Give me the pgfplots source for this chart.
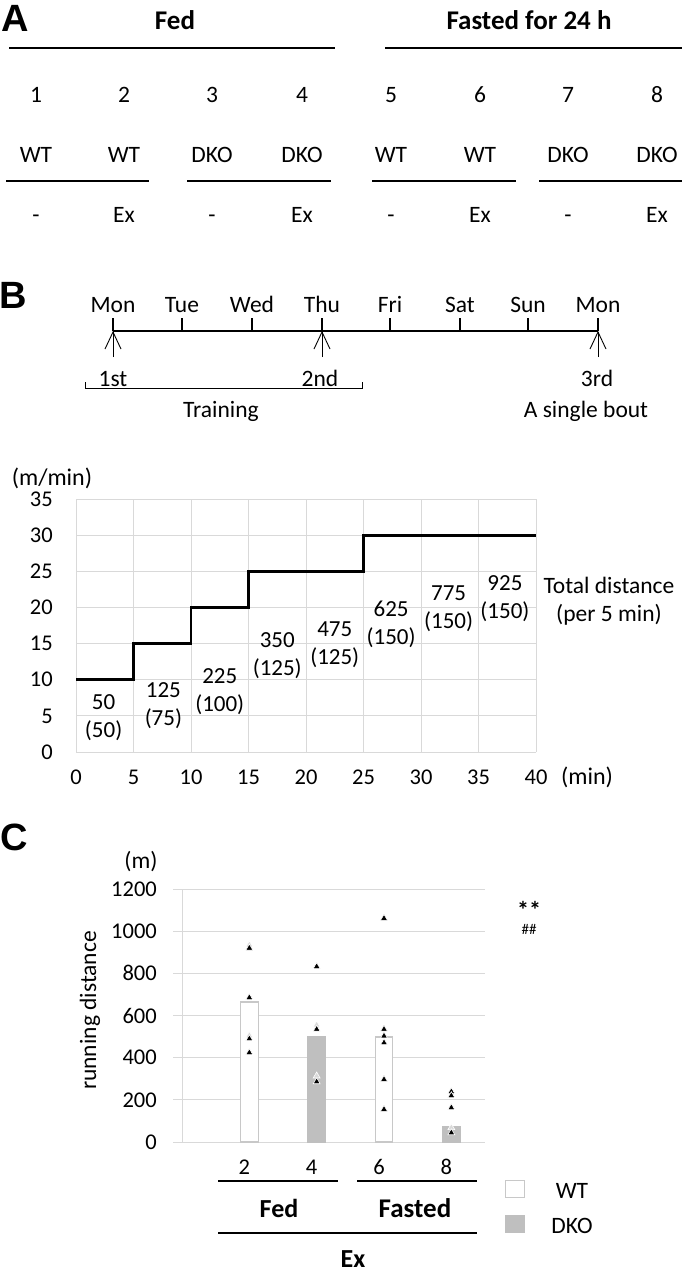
\documentclass[border=0pt]{standalone}
\usepackage{pgfplots}
\pgfplotsset{compat=1.18}
\usepackage{fontspec}
\setmainfont{Carlito}
\newfontfamily\arialf{Liberation Sans}
\newcommand\fs[1]{\fontsize{#1bp}{#1bp}\selectfont}
\definecolor{gridgray}{HTML}{D9D9D9}
\definecolor{barline}{HTML}{C8C8C8}
\definecolor{dkogray}{HTML}{BFBFBF}
\begin{document}
\begin{tikzpicture}[x=1bp,y=1bp,font=\fs{23.5}]
\path[use as bounding box] (0,0) rectangle (685,-1271);

% ---- panel A
\node[anchor=base,font=\arialf\bfseries\fs{38}] at (15,-31) {A};
\node[anchor=base,font=\bfseries\fs{27}] at (175,-29) {Fed};
\node[anchor=base,font=\bfseries\fs{27}] at (529,-29) {Fasted for 24 h};
\draw[line width=2bp] (9,-48) -- (335,-48);
\draw[line width=2bp] (385,-48) -- (682,-48);
\foreach \x/\n/\g/\e in {36/1/WT/-,124/2/WT/Ex,212/3/DKO/-,302/4/DKO/Ex,391/5/WT/-,480/6/WT/Ex,568/7/DKO/-,657/8/DKO/Ex}{
  \node[anchor=base] at (\x,-102) {\n};
  \node[anchor=base] at (\x,-162) {\g};
  \node[anchor=base] at (\x,-222) {\e};
}
\foreach \a/\b in {6/149,187/331,372/516,539/682}
  \draw[line width=2.2bp] (\a,-181) -- (\b,-181);

% ---- panel B, schedule
\node[anchor=base,font=\arialf\bfseries\fs{38}] at (13,-308) {B};
\draw[line width=2bp] (113,-331) -- (598,-331);
\foreach \x/\d in {113/Mon,182/Tue,252/Wed,322/Thu,390/Fri,460/Sat,528/Sun,598/Mon}{
  \draw[line width=2bp] (\x,-331) -- (\x,-318);
  \node[anchor=base] at (\x,-312) {\d};
}
\foreach \x in {113,322,598}{
  \draw[line width=0.9bp] (\x,-357) -- (\x,-332);
  \draw[line width=0.9bp] (\x-8,-349) -- (\x,-332) -- (\x+8,-349);
}
\draw[line width=0.8bp] (85,-382) -- (85,-388) -- (362,-388) -- (362,-382);
\node[anchor=base] at (113,-386) {1st};
\node[anchor=base] at (320,-386) {2nd};
\node[anchor=base] at (597,-386) {3rd};
\node[anchor=base] at (221,-417) {Training};
\node[anchor=base] at (586,-417) {A single bout};

% ---- panel B, speed protocol
\begin{axis}[
    at={(76bp,-752bp)}, anchor=south west,
    scale only axis, width=460bp, height=253bp,
    xmin=0, xmax=40, ymin=0, ymax=35,
    xtick={0,5,...,40}, ytick={0,5,...,35},
    grid=major, major grid style={gridgray, line width=0.8bp},
    axis line style={draw=none}, tick style={draw=none},
    ticklabel style={font=\fs{22.5}},
    /pgf/number format/assume math mode=true,
    yticklabel style={anchor=east, inner sep=0pt, xshift=-23bp},
    xticklabel style={anchor=center, inner sep=0pt, yshift=-25bp},
    clip=false,
]
\addplot[const plot, black, line width=2.8bp] coordinates {
    (0,10) (5,15) (10,20) (15,25) (25,30) (40,30)
};
\foreach \xx/\yy/\t/\s in {2.4/4.7/50/50, 7.6/6.4/125/75, 12.5/8.4/225/100,
    17.5/13.3/350/125, 22.5/14.9/475/125, 27.4/17.7/625/150,
    32.4/19.8/775/150, 37.3/21.2/925/150}{
  \edef\temp{\noexpand\node[align=center,font=\noexpand\fontsize{23bp}{28bp}\noexpand\selectfont]
    at (axis cs:\xx,\yy) {\t\noexpand\\(\s)};}
  \temp
}
\end{axis}
\node[anchor=base,font=\fs{24}] at (52,-485) {(m/min)};
\node[anchor=base] at (609,-593) {Total distance};
\node[anchor=base] at (609,-621) {(per 5 min)};
\node[font=\fs{24}] at (587,-777) {(min)};

% ---- panel C
\node[anchor=base,font=\arialf\bfseries\fs{38}] at (14,-850) {C};
\node[anchor=base] at (141,-868) {(m)};
\begin{axis}[
    at={(182bp,-1142bp)}, anchor=south west,
    scale only axis, width=303bp, height=253bp,
    xmin=0, xmax=4.5, ymin=0, ymax=1200,
    ytick={0,200,...,1200}, xtick={1,2,3,4}, xticklabels={2,4,6,8},
    ymajorgrids, major grid style={gridgray, line width=0.9bp},
    axis lines*=left, axis line style={gridgray, line width=0.9bp},
    xtick style={draw=none},
    ytick style={gridgray, line width=0.9bp},
    major tick length=9bp, tick align=outside,
    ticklabel style={font=\fs{22.5}},
    /pgf/number format/assume math mode=true,
    /pgf/number format/1000 sep={},
    yticklabel style={anchor=east, inner sep=0pt, xshift=-16bp},
    xticklabel style={anchor=center, inner sep=0pt, yshift=-16bp, xshift=-5bp},
    ylabel={running distance},
    ylabel style={at={(axis description cs:-0.304,0.52)}, anchor=center, font=\fs{23.5}},
    clip=false,
]
\addplot[ybar, bar width=17.6bp, bar shift=0pt, fill=white, draw=barline, line width=1.2bp]
    coordinates {(1,664) (3,498)};
\addplot[ybar, bar width=17.6bp, bar shift=0pt, fill=dkogray, draw=dkogray, line width=1.2bp]
    coordinates {(2,498) (4,71)};
\addplot[only marks, mark=triangle*, mark size=4bp,
    mark options={fill=gray!30, draw=white, line width=0.6bp}]
    coordinates {(1,935) (1,505) (2,555) (2,313) (4,68)};
\addplot[only marks, mark=triangle*, mark size=4bp,
    mark options={fill=black, draw=white, line width=0.6bp}]
    coordinates {(1,920) (1,685) (1,490) (1,424)
                 (2,832) (2,535) (2,286)
                 (3,1061) (3,535) (3,503) (3,471) (3,297) (3,155)
                 (4,239) (4,220) (4,163) (4,44)};
\end{axis}
\node[font=\bfseries\fs{24}] at (529,-910) {**};
\node[font=\fs{15}] at (529,-929) {\#\#};
\draw[line width=2.5bp] (218,-1181) -- (338,-1181);
\draw[line width=2.5bp] (357,-1181) -- (477,-1181);
\draw[line width=2.5bp] (218,-1233) -- (477,-1233);
\node[anchor=base,font=\bfseries\fs{26}] at (279,-1217) {Fed};
\node[anchor=base,font=\bfseries\fs{27}] at (415,-1217) {Fasted};
\node[anchor=base,font=\bfseries\fs{26},inner sep=1bp] at (353,-1267) {Ex};
\draw[barline, line width=1.2bp, fill=white] (505.6,-1180.6) rectangle (524.4,-1197.4);
\fill[dkogray] (505,-1215) rectangle (525,-1233);
\node[anchor=base] at (572,-1198) {WT};
\node[anchor=base] at (572,-1233) {DKO};
\end{tikzpicture}
\end{document}
